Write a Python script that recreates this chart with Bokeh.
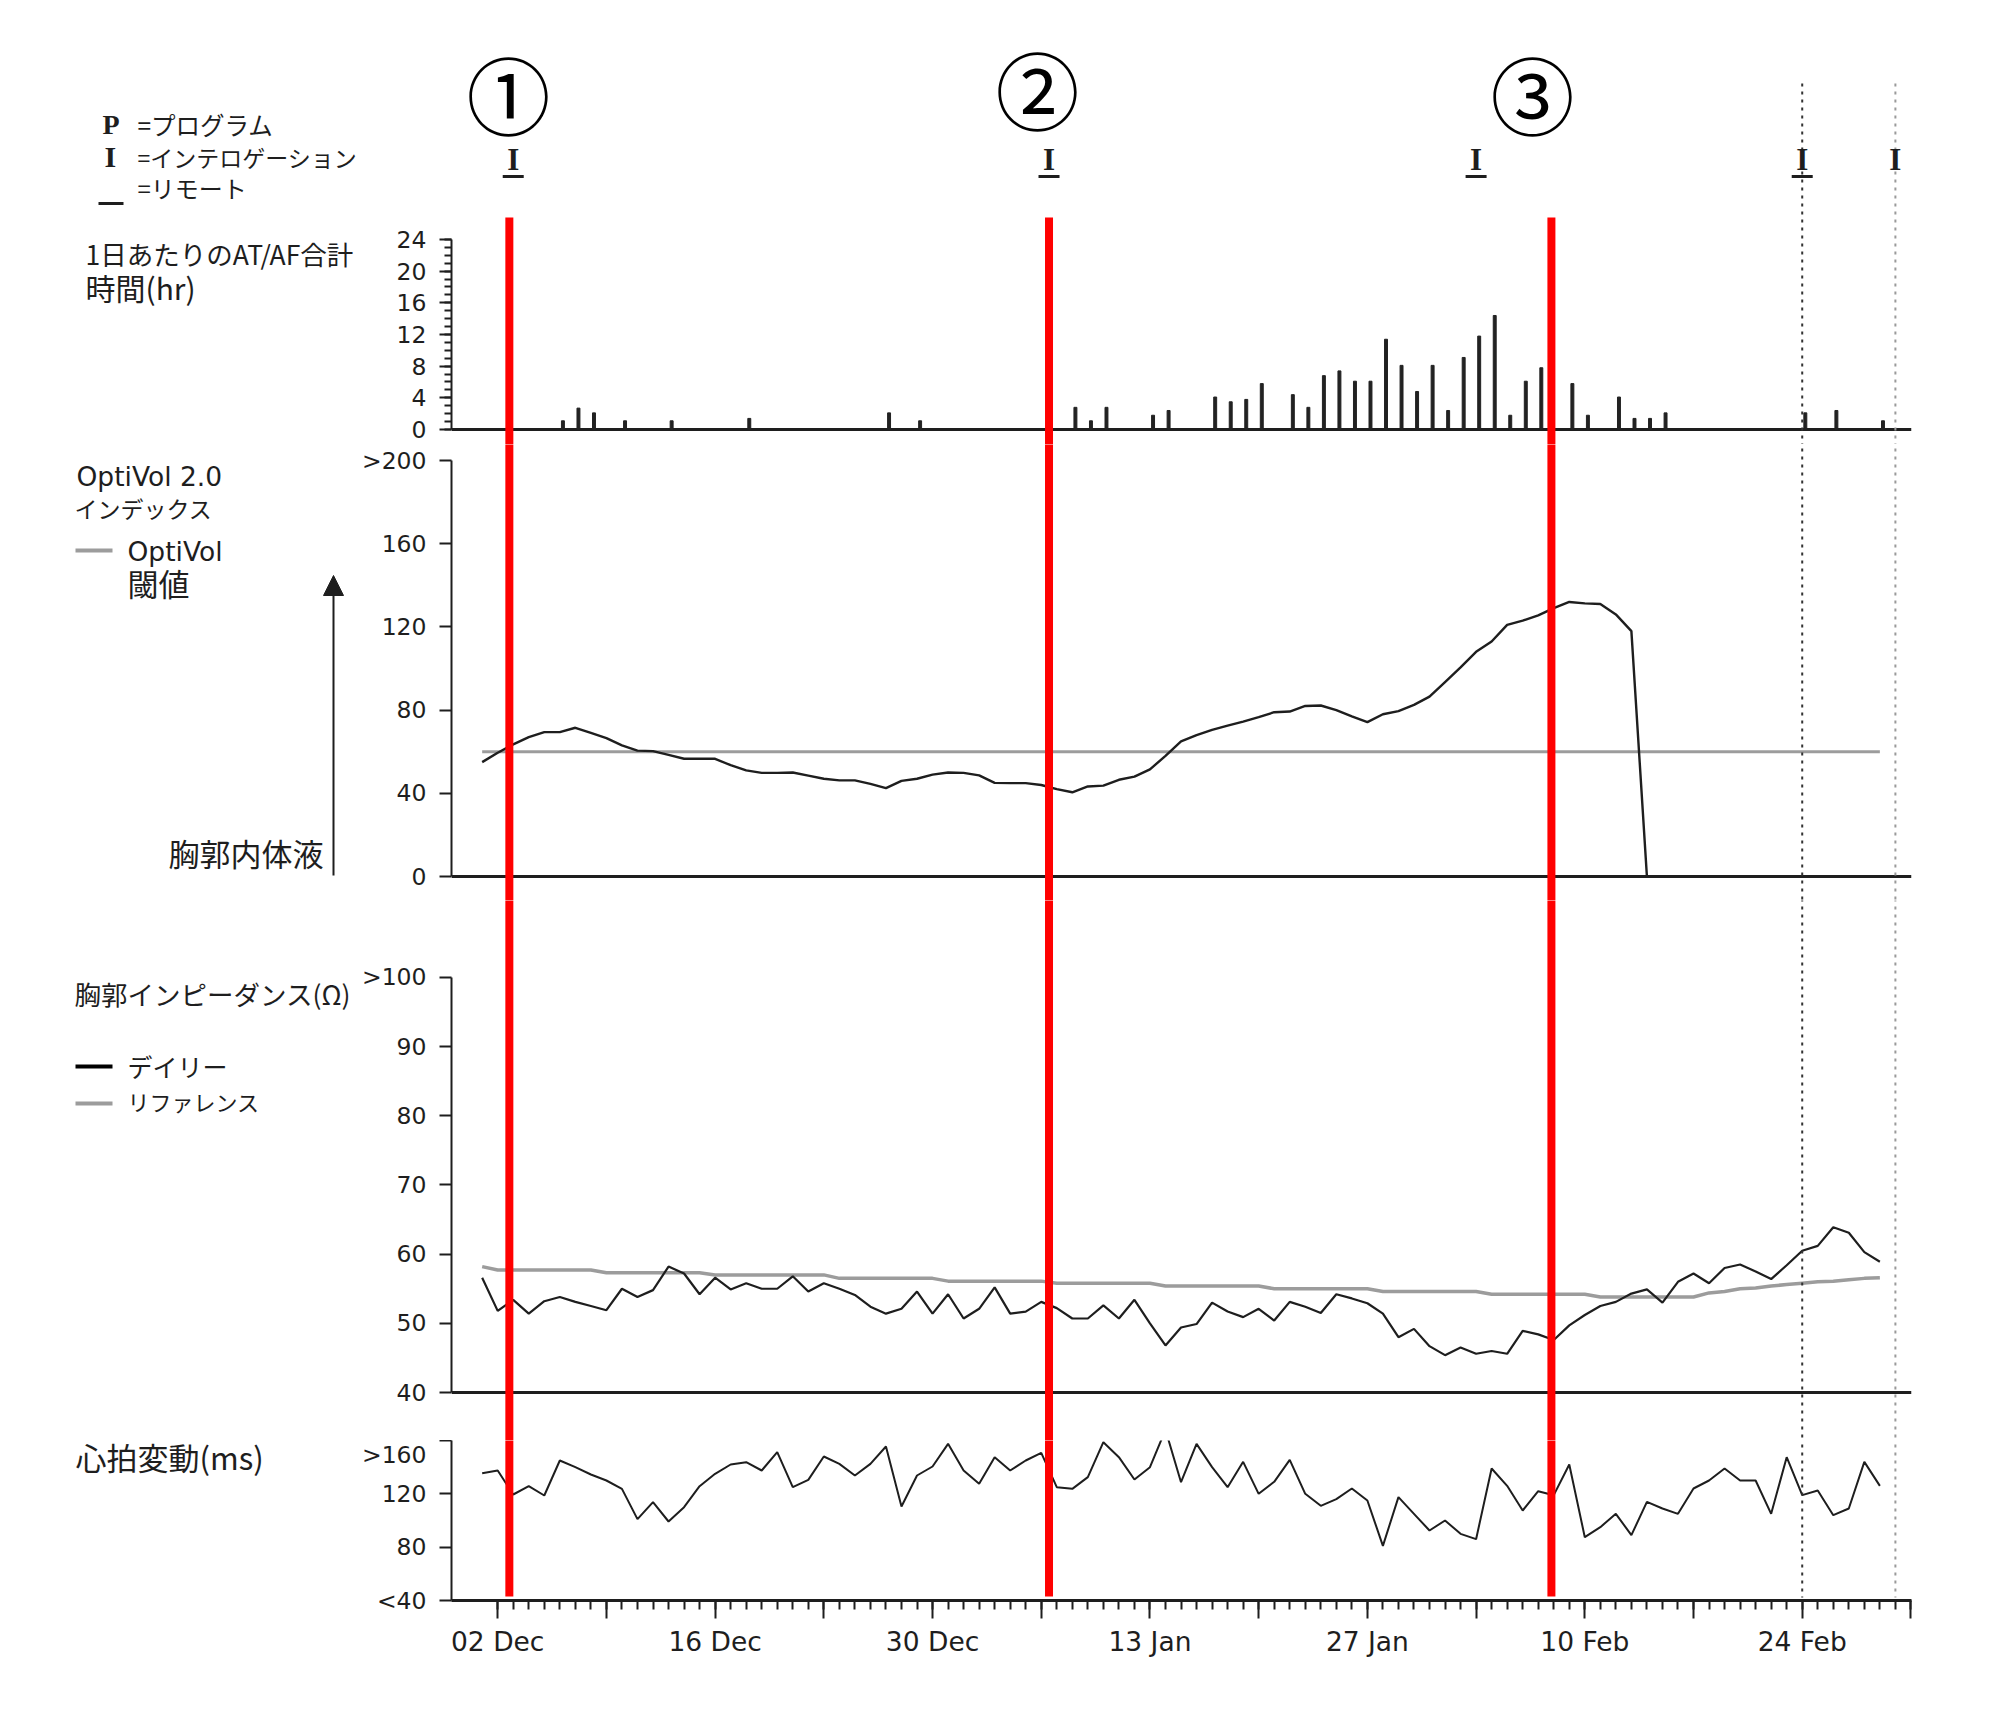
from bokeh.plotting import figure
from bokeh.layouts import column, row
from bokeh.models import Range1d, FixedTicker, Span, Arrow, NormalHead
from bokeh.core.properties import value
from bokeh.embed import file_html
from bokeh.resources import INLINE

# ---------------- data ----------------
# day index: 0 = 02 Dec
x_tick_days = [0, 7, 14, 21, 28, 35, 42, 49, 56, 63, 70, 77, 84, 91]
x_tick_labels = ["02 Dec", "", "16 Dec", "", "30 Dec", "", "13 Jan", "", "27 Jan", "", "10 Feb", "", "24 Feb", ""]

af_days = [4, 5, 6, 8, 11, 16, 25, 27, 37, 38, 39, 42, 43, 46, 47, 48, 49, 51, 52, 53, 54, 55, 56,
           57, 58, 59, 60, 61, 62, 63, 64, 65, 66, 67, 69, 70, 72, 73, 74, 75, 84, 86, 89]
af_hours = [1.1, 2.7, 2.1, 1.1, 1.1, 1.4, 2.1, 1.1, 2.8, 1.1, 2.8, 1.8, 2.4, 4.1, 3.5, 3.8, 5.8, 4.4, 2.8, 6.8, 7.4, 6.1, 6.1,
            11.4, 8.1, 4.8, 8.1, 2.4, 9.1, 11.8, 14.4, 1.8, 6.1, 7.8, 5.8, 1.8, 4.1, 1.4, 1.4, 2.1, 2.1, 2.4, 1.1]
af_ticks = [0, 4, 8, 12, 16, 20, 24]

optivol_first_day = -1
optivol_index = [55, 59.5, 63.5, 67, 69.4, 69.4, 71.5, 69, 66.5, 63, 60.5, 60.3, 58.5, 56.6, 56.6, 56.6,
                 53.5, 51, 49.8, 49.8, 50, 48.5, 47, 46.2, 46.2, 44.5, 42.5, 46, 47, 49, 50, 49.8, 48.6,
                 45, 44.9, 44.9, 44, 42, 40.5, 43.3, 43.7, 46.5, 48, 51.5, 58, 65, 68, 70.5, 72.5, 74.5,
                 76.6, 79, 79.3, 82, 82.2, 80, 77, 74.2, 78, 79.5, 82.5, 86.5, 93.5, 100.5, 108, 113,
                 121, 123, 125.5, 129, 132, 131.3, 131, 126, 118, 0]
threshold_days = [-1, 89]
threshold_values = [60, 60]
optivol_ticks = [0, 40, 80, 120, 160, 200]
optivol_tick_labels = ["0", "40", "80", "120", "160", ">200"]

daily_first_day = -1
impedance_daily = [56.6, 51.8, 53.4, 51.4, 53.2, 53.8, 53.1, 52.5, 51.9, 55.0, 53.8, 54.8, 58.2, 57.2, 54.2,
                   56.6, 54.9, 55.8, 55.0, 55.0, 56.8, 54.6, 55.8, 55.0, 54.1, 52.4, 51.4, 52.1, 54.6, 51.4,
                   54.2, 50.7, 52.1, 55.2, 51.4, 51.7, 53.1, 52.2, 50.7, 50.7, 52.6, 50.7, 53.4, 50.0, 46.8,
                   49.4, 49.9, 53.0, 51.7, 50.9, 52.1, 50.4, 53.1, 52.4, 51.5, 54.2, 53.6, 52.9, 51.4, 48.0,
                   49.2, 46.7, 45.4, 46.5, 45.6, 46.0, 45.6, 48.9, 48.4, 47.6, 49.7, 51.2, 52.5, 53.1, 54.3,
                   54.9, 53.0, 56.0, 57.2, 55.8, 58.0, 58.5, 57.5, 56.4, 58.4, 60.5, 61.2, 63.9, 63.1, 60.3, 58.9]
impedance_reference = [58.2,
                       57.7, 57.7, 57.7, 57.7, 57.7, 57.7, 57.7,
                       57.3, 57.3, 57.3, 57.3, 57.3, 57.3, 57.3,
                       57.0, 57.0, 57.0, 57.0, 57.0, 57.0, 57.0, 57.0,
                       56.5, 56.5, 56.5, 56.5, 56.5, 56.5, 56.5,
                       56.1, 56.1, 56.1, 56.1, 56.1, 56.1, 56.1,
                       55.8, 55.8, 55.8, 55.8, 55.8, 55.8, 55.8,
                       55.4, 55.4, 55.4, 55.4, 55.4, 55.4, 55.4,
                       55.0, 55.0, 55.0, 55.0, 55.0, 55.0, 55.0,
                       54.6, 54.6, 54.6, 54.6, 54.6, 54.6, 54.6,
                       54.2, 54.2, 54.2, 54.2, 54.2, 54.2, 54.2,
                       53.8, 53.8, 53.8, 53.8, 53.8, 53.8, 53.8,
                       54.4, 54.6, 55.0, 55.1, 55.4, 55.6, 55.8, 56.0, 56.1, 56.3, 56.5, 56.6]
impedance_ticks = [40, 50, 60, 70, 80, 90, 100]
impedance_tick_labels = ["40", "50", "60", "70", "80", "90", ">100"]

hrv = [135.5, 137.5, 119.5, 125.75, 118.75, 145, 140, 134.5, 130, 123.75, 101, 113.75, 99.25, 110, 125.75,
       135, 142, 143.75, 137.5, 151.25, 125, 130.5, 148, 142.5, 133.75, 142.5, 155.5, 110.5, 133.75, 140.5,
       157.5, 137.5, 127.5, 147.5, 137.5, 145, 150.75, 125, 123.75, 132.5, 158.75, 147.5, 130.75, 140, 168,
       128.75, 157.5, 140, 125, 144, 120, 129, 145.5, 120, 111, 116, 124, 115, 81, 117.5, 105, 92.5, 100,
       90, 86, 139, 126, 107.5, 122, 119, 142, 87.5, 95, 105, 89, 114, 109, 105, 124, 130, 139, 130, 130,
       105, 147.5, 119, 122.5, 104, 109, 144, 126]
hrv_ticks = [40, 80, 120, 160]
hrv_tick_labels = ["<40", "80", "120", ">160"]

interrogation_days = [1, 35.5, 63, 84, 90]
remote_flags = [True, True, True, True, False]
event_days = [0.75, 35.5, 67.85]
event_labels = ["①", "②", "③"]
dotted_days = [84, 90]

assert len(optivol_index) == 76
assert len(impedance_daily) == 91 and len(impedance_reference) == 91 and len(hrv) == 91

# ---------------- layout helpers (page pixels -> data) ----------------
X0, DX = 497.2, 15.53
AXIS_X = 451
RIGHT = 1911
LABEL_W = 358          # left text column: page x 0 .. 358
TOTAL_H = 1670         # page y 0 .. 1670


def xd(px):
    return (px - X0) / DX


def fy1(py):
    return (429 - py) / 7.917


def fy2(py):
    return (876 - py) / 2.08


def fy3(py):
    return 40 + (1392 - py) / 6.917


def fy4(py):
    return 40 + (1600 - py) * 0.75


DARK = "#1e1e1e"
GRAY = "#9c9c9c"
RED = "#ff0000"
CJK = "Noto Sans CJK JP"
LAT = "DejaVu Sans"


def make_fig(top, bottom, yr, bottom_border=0):
    p = figure(frame_width=RIGHT - AXIS_X, frame_height=bottom - top,
               x_range=Range1d(xd(AXIS_X), xd(RIGHT)), y_range=Range1d(*yr),
               output_backend="svg", toolbar_location=None,
               x_axis_location=("below" if bottom_border else None),
               min_border_left=AXIS_X - LABEL_W, min_border_right=40,
               min_border_top=0, min_border_bottom=bottom_border)
    p.title.visible = False
    p.outline_line_color = None
    p.xgrid.visible = False
    p.ygrid.visible = False
    p.background_fill_color = "white"
    p.border_fill_color = "white"
    ax = p.yaxis[0]
    ax.axis_line_width = 2
    ax.axis_line_color = DARK
    ax.major_tick_line_width = 2
    ax.major_tick_line_color = DARK
    ax.major_tick_out = 12
    ax.major_tick_in = 0
    ax.minor_tick_line_color = None
    ax.major_label_text_font = LAT
    ax.major_label_text_font_size = "23.5px"
    ax.major_label_text_color = DARK
    ax.major_label_standoff = 13
    return p


def vlines(p, fy, y_top_px, y_bot_px):
    p.segment(x0=event_days, x1=event_days, y0=[fy(y_top_px)] * 3, y1=[fy(y_bot_px)] * 3,
              line_color=RED, line_width=8)


def dlines(p, fy, y_top_px, y_bot_px):
    p.segment(x0=dotted_days[:1], x1=dotted_days[:1], y0=[fy(y_top_px)], y1=[fy(y_bot_px)],
              line_color="#333333", line_width=2, line_dash="3 5")
    p.segment(x0=dotted_days[1:], x1=dotted_days[1:], y0=[fy(y_top_px)], y1=[fy(y_bot_px)],
              line_color="#9a9a9a", line_width=2, line_dash="3 5")


# ---------------- panel 1 : AT/AF + header ----------------
p1 = make_fig(0, 444, (fy1(444), fy1(0)))
a1 = p1.yaxis[0]
a1.bounds = (0, 24)
a1.ticker = FixedTicker(ticks=af_ticks, minor_ticks=list(range(0, 25)))
a1.minor_tick_line_color = DARK
a1.minor_tick_line_width = 2
a1.minor_tick_out = 7
a1.minor_tick_in = 0
p1.add_layout(Span(location=0, dimension="width", line_color=DARK, line_width=3, level="underlay"))
p1.vbar(x=[d + 0.2 for d in af_days], top=af_hours, bottom=0, width=0.19, color="#222222")
dlines(p1, fy1, 83, 470)
vlines(p1, fy1, 217, 470)
p1.text(x=interrogation_days, y=[fy1(159)] * len(interrogation_days), text=["I"] * len(interrogation_days),
        text_font=value("Liberation Serif"), text_font_style="bold", text_font_size="31px",
        text_align="center", text_baseline="middle", text_color=DARK)
p1.scatter(x=[d for d, r in zip(interrogation_days, remote_flags) if r],
           y=[fy1(176)] * sum(remote_flags), marker="dash", size=21, line_width=3, line_color=DARK)
p1.text(x=[xd(508), xd(1037), xd(1532)], y=[fy1(92), fy1(87), fy1(92)], text=event_labels,
        text_font=value(CJK), text_font_size="84px", text_align="center", text_baseline="middle",
        text_color="#000000")

# ---------------- panel 2 : OptiVol ----------------
p2 = make_fig(444, 900, (fy2(900), fy2(444)))
p2.yaxis[0].bounds = (0, 200)
p2.yaxis[0].ticker = FixedTicker(ticks=optivol_ticks)
p2.yaxis[0].major_label_overrides = dict(zip(optivol_ticks, optivol_tick_labels))
p2.add_layout(Span(location=0, dimension="width", line_color=DARK, line_width=3, level="underlay"))
ov_days = list(range(optivol_first_day, optivol_first_day + len(optivol_index)))
p2.line(threshold_days, threshold_values, line_color=GRAY, line_width=3)
p2.line(ov_days, optivol_index, line_color=DARK, line_width=2.4)
dlines(p2, fy2, 400, 950)
vlines(p2, fy2, 400, 950)

# ---------------- panel 3 : impedance ----------------
p3 = make_fig(900, 1440, (fy3(1440), fy3(900)))
p3.yaxis[0].bounds = (40, 100)
p3.yaxis[0].ticker = FixedTicker(ticks=impedance_ticks)
p3.yaxis[0].major_label_overrides = dict(zip(impedance_ticks, impedance_tick_labels))
p3.add_layout(Span(location=40, dimension="width", line_color=DARK, line_width=3, level="underlay"))
d_days = list(range(daily_first_day, daily_first_day + len(impedance_daily)))
p3.line(d_days, impedance_reference, line_color=GRAY, line_width=3.5)
p3.line(d_days, impedance_daily, line_color=DARK, line_width=2.2)
dlines(p3, fy3, 850, 1500)
vlines(p3, fy3, 850, 1500)

# ---------------- panel 4 : HRV + date axis ----------------
p4 = make_fig(1440, 1600, (40, 160), bottom_border=70)
p4.yaxis[0].bounds = (40, 160)
p4.yaxis[0].ticker = FixedTicker(ticks=hrv_ticks)
p4.yaxis[0].major_label_overrides = dict(zip(hrv_ticks, hrv_tick_labels))
xa = p4.xaxis[0]
xa.ticker = FixedTicker(ticks=x_tick_days, minor_ticks=list(range(0, 92)))
xa.major_label_overrides = dict(zip(x_tick_days, x_tick_labels))
xa.axis_line_width = 3
xa.axis_line_color = DARK
xa.major_tick_line_width = 2
xa.major_tick_line_color = DARK
xa.major_tick_out = 18
xa.major_tick_in = 0
xa.minor_tick_line_width = 2
xa.minor_tick_line_color = DARK
xa.minor_tick_out = 9
xa.minor_tick_in = 0
xa.major_label_text_font = LAT
xa.major_label_text_font_size = "26.5px"
xa.major_label_text_color = DARK
xa.major_label_standoff = 7
p4.line(d_days, hrv, line_color=DARK, line_width=2)
dlines(p4, fy4, 1300, 1597)
vlines(p4, fy4, 1300, 1596)

# ---------------- left text column (page-pixel coordinates) ----------------
p0 = figure(frame_width=LABEL_W, frame_height=TOTAL_H,
            x_range=Range1d(0, LABEL_W), y_range=Range1d(TOTAL_H, 0),
            output_backend="svg", toolbar_location=None,
            x_axis_location=None, y_axis_location=None,
            min_border_left=0, min_border_right=0, min_border_top=0, min_border_bottom=0)
p0.title.visible = False
p0.outline_line_color = None
p0.xgrid.visible = False
p0.ygrid.visible = False


def txt(x, y, t, size, font=CJK, align="left", style="normal"):
    p0.text(x=[x], y=[y], text=[t], text_font=value(font), text_font_size=size,
            text_align=align, text_baseline="middle", text_font_style=style, text_color=DARK)


txt(102, 124, "P", "28px", font="Liberation Serif", style="bold")
txt(137, 124, "=プログラム", "24.5px")
txt(104, 156, "I", "30px", font="Liberation Serif", style="bold")
txt(137, 156, "=インテロゲーション", "23px")
p0.segment(x0=[98], x1=[123], y0=[203], y1=[203], line_color=DARK, line_width=3)
txt(137, 187, "=リモート", "24px")
txt(85, 253, "1日あたりのAT/AF合計", "26.5px")
txt(85, 286, "時間(hr)", "30px")

txt(76, 476, "OptiVol 2.0", "26.5px", font=LAT)
txt(74, 507, "インデックス", "23px")
p0.segment(x0=[75], x1=[112], y0=[550], y1=[550], line_color=GRAY, line_width=4)
txt(127, 551, "OptiVol", "26.5px", font=LAT)
txt(127, 582, "閾値", "31px")
p0.add_layout(Arrow(end=NormalHead(size=20, fill_color=DARK, line_color=DARK),
                    x_start=333, y_start=875, x_end=333, y_end=575, line_color=DARK, line_width=2))
txt(323, 852, "胸郭内体液", "31px", align="right")

txt(74, 993, "胸郭インピーダンス(Ω)", "26.5px")
p0.segment(x0=[75], x1=[112], y0=[1066], y1=[1066], line_color="#000000", line_width=4)
txt(127, 1065, "デイリー", "25px")
p0.segment(x0=[75], x1=[112], y0=[1103], y1=[1103], line_color=GRAY, line_width=4)
txt(127, 1100, "リファレンス", "22px")

txt(75, 1456, "心拍変動(ms)", "31px")

layout = row(p0, column(p1, p2, p3, p4, spacing=0), spacing=0)
open("out.html", "w").write(file_html(layout, INLINE))
